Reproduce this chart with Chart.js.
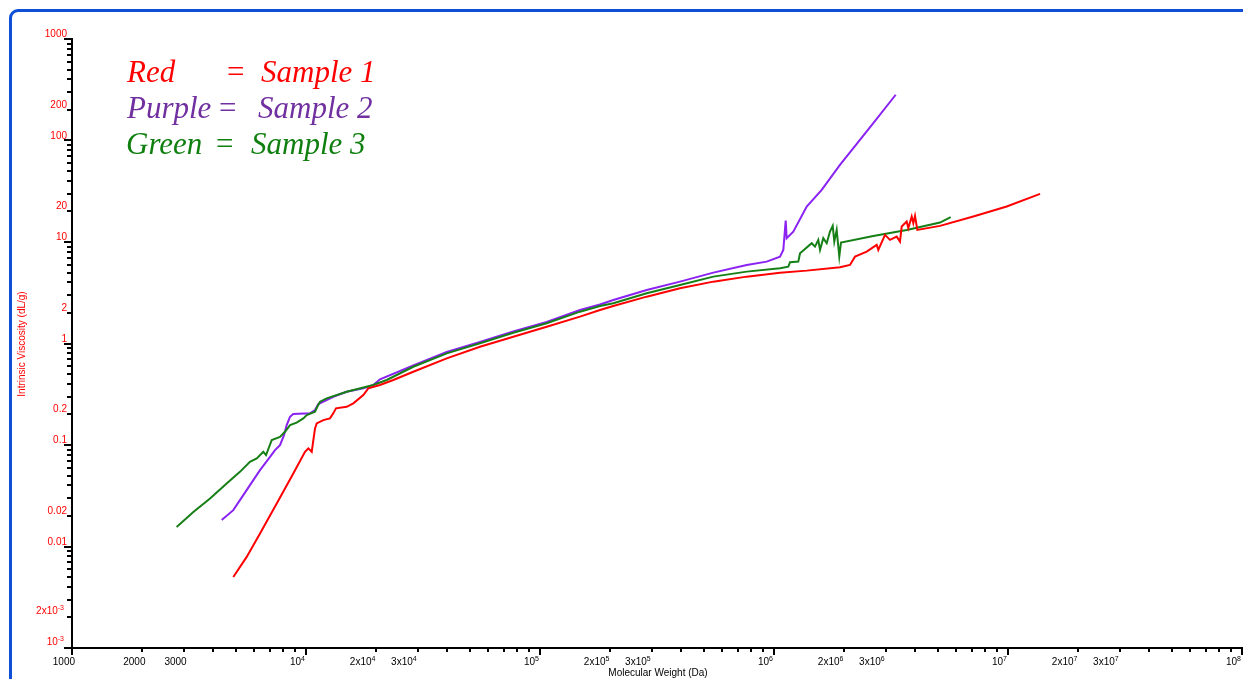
<!DOCTYPE html>
<html><head><meta charset="utf-8">
<script src="https://cdn.jsdelivr.net/npm/chart.js@4.4.0/dist/chart.umd.min.js"></script>
<style>
html,body{margin:0;padding:0;background:#fff;overflow:hidden;}
#wrap{position:relative;width:1243px;height:679px;overflow:hidden;}
#frame{position:absolute;left:9px;top:9px;width:1400px;height:900px;border:3px solid #0d4fd7;border-radius:9px;box-sizing:border-box;pointer-events:none;}
canvas{position:absolute;left:0;top:0;}
</style></head><body>
<div id="wrap"><canvas id="c" width="1243" height="679"></canvas><div id="frame"></div></div>
<script>
// Sample 1 (red)
const sample1MW=[4890,5579,6361,7497,8824,9902,10230,10580,10750,10930,11110,11860,12660,13080,13430,14920,15930,17580,18460,20710,23610,28740,39940,55400,76900,106800,148200,180500,205700,285800,396600,550300,764400,1061000,1380000,1914000,2112000,2220000,2490000,2747000,2791000,2981000,3131000,3345000,3455000,3513000,3691000,3749000,3877000,3939000,4005000,4097000,5122000,7107000,9872000,13710000];
const sample1IV=[0.00501,0.0079,0.01343,0.02655,0.05248,0.0857,0.0926,0.0857,0.1118,0.1458,0.1633,0.176,0.1829,0.205,0.2296,0.238,0.2572,0.3105,0.3616,0.3897,0.4365,0.5271,0.7145,0.9299,1.167,1.464,1.838,2.14,2.343,2.894,3.502,4.069,4.558,4.991,5.224,5.642,5.945,7.178,8.04,9.363,8.358,11.75,10.49,11.30,10.09,14.19,15.90,13.68,17.80,15.33,18.09,13.16,14.41,17.80,22.35,29.82];
// Sample 2 (purple)
const sample2MW=[4363,4890,5396,5954,6361,7020,7372,7743,8054,8270,8545,8824,10400,10930,11290,13080,14920,17580,19400,20710,28740,39940,55400,76900,106800,148200,180500,205700,285800,396600,550300,764400,930700,1061000,1096000,1122000,1133000,1209000,1380000,1599000,1914000,2657000,3312000];
const sample2IV=[0.0182,0.0228,0.0321,0.0451,0.0566,0.0765,0.0891,0.0998,0.1252,0.1571,0.1897,0.2017,0.2050,0.2209,0.2532,0.2987,0.3347,0.3616,0.3897,0.4435,0.6067,0.8245,1.035,1.313,1.629,2.140,2.424,2.685,3.370,4.069,4.991,5.945,6.408,7.178,8.358,16.26,10.90,12.66,22.35,32.65,57.60,148.5,282.3];
// Sample 3 (green)
const sample3MW=[2800,3300,3890,4580,5220,5760,6160,6570,6750,7140,7740,8130,8550,9120,9740,10070,10930,11180,11480,12260,14920,19400,22130,28740,39940,55400,76900,106800,148200,180500,205700,285800,396600,550300,764400,1061000,1151000,1171000,1270000,1292000,1449000,1497000,1546000,1573000,1624000,1680000,1735000,1782000,1810000,1853000,1901000,1933000,2657000,3691000,5122000,5690000];
const sample3IV=[0.0156,0.0219,0.0297,0.0418,0.0544,0.0683,0.0738,0.0857,0.0795,0.112,0.120,0.135,0.157,0.166,0.183,0.197,0.213,0.238,0.267,0.288,0.335,0.390,0.437,0.590,0.800,1.005,1.278,1.582,2.059,2.343,2.491,3.127,3.775,4.558,5.107,5.515,5.720,6.321,6.408,7.753,9.731,9.007,10.49,8.358,10.90,9.73,12.66,14.41,10.09,13.16,7.178,9.86,11.48,13.16,15.54,17.56];

const xTickValues=[1e3,2e3,3e3,1e4,2e4,3e4,1e5,2e5,3e5,1e6,2e6,3e6,1e7,2e7,3e7,1e8];
const xTickLabels=['1000','2000','3000','10^4','2x10^4','3x10^4','10^5','2x10^5','3x10^5','10^6','2x10^6','3x10^6','10^7','2x10^7','3x10^7','10^8'];
const yTickValues=[1000,200,100,20,10,2,1,0.2,0.1,0.02,0.01,0.002,0.001];
const yTickLabels=['1000','200','100','20','10','2','1','0.2','0.1','0.02','0.01','2x10^-3','10^-3'];

const xTitle='Molecular Weight (Da)';
const yTitle='Intrinsic Viscosity (dL/g)';
const legendRows=[
  {parts:['Red','=','Sample 1'],color:'#ff0000'},
  {parts:['Purple','=','Sample 2'],color:'#7030a0'},
  {parts:['Green','=','Sample 3'],color:'#0f7f0f'}
];

function pts(xs,ys){return xs.map((x,i)=>({x:x,y:ys[i]}));}

const SANS='Arial, "Liberation Sans", sans-serif';
function drawLabel(ctx,label,xRight,baseline,color){
  const idx=label.indexOf('^');
  const base=idx<0?label:label.slice(0,idx);
  const sup=idx<0?'':label.slice(idx+1);
  ctx.fillStyle=color;
  ctx.textAlign='left';ctx.textBaseline='alphabetic';
  ctx.font='10px '+SANS;
  const wb=ctx.measureText(base).width;
  ctx.font='7px '+SANS;
  const ws=sup?ctx.measureText(sup).width:0;
  const x0=xRight-wb-ws;
  ctx.font='10px '+SANS;
  ctx.fillText(base,x0,baseline);
  if(sup){ctx.font='7px '+SANS;ctx.fillText(sup,x0+wb,baseline-4);}
}

const axesPlugin={
  id:'axesPlugin',
  afterDatasetsDraw(chart){
    const ctx=chart.ctx, a=chart.chartArea, xs=chart.scales.x, ys=chart.scales.y;
    ctx.save();
    ctx.strokeStyle='#000';ctx.lineWidth=2;ctx.lineCap='butt';
    ctx.beginPath();
    ctx.moveTo(a.left,a.top-1);ctx.lineTo(a.left,a.bottom+1);
    ctx.moveTo(a.left-1,a.bottom);ctx.lineTo(a.right+2,a.bottom);
    ctx.stroke();
    ctx.beginPath();
    for(let e=-3;e<=3;e++){
      for(let k=1;k<=9;k++){
        const v=k*Math.pow(10,e); if(v>1000*1.0001) break;
        const y=Math.round(ys.getPixelForValue(v));
        const len=(k===1)?8:5;
        ctx.moveTo(a.left-len,y);ctx.lineTo(a.left,y);
      }
    }
    for(let e=3;e<=8;e++){
      for(let k=1;k<=9;k++){
        const v=k*Math.pow(10,e); if(v>1e8*1.0001) break;
        const x=Math.round(xs.getPixelForValue(v));
        const len=(k===1)?7:4;
        ctx.moveTo(x,a.bottom);ctx.lineTo(x,a.bottom+len);
      }
    }
    ctx.stroke();
    yTickValues.forEach((v,i)=>{
      const y=ys.getPixelForValue(v);
      const lab=yTickLabels[i];
      const hasSup=lab.indexOf('^')>=0;
      drawLabel(ctx,lab,hasSup?64:67,y-(hasSup?3:2),'#ff0000');
    });
    xTickValues.forEach((v,i)=>{
      const x=xs.getPixelForValue(v);
      const lab=xTickLabels[i];
      const hasSup=lab.indexOf('^')>=0;
      drawLabel(ctx,lab,x+(hasSup?-1:3),664.5,'#000');
    });
    ctx.font='10px '+SANS;ctx.fillStyle='#000';ctx.textAlign='center';ctx.textBaseline='alphabetic';
    ctx.fillText(xTitle,658,676);
    ctx.save();
    ctx.translate(24.5,344);ctx.rotate(-Math.PI/2);
    ctx.fillStyle='#ff0000';
    ctx.fillText(yTitle,0,0);
    ctx.restore();
    const SERIF='italic 31px "Liberation Serif", "Times New Roman", serif';
    const rowPos=[
      {y:82,x:[127,225,261]},
      {y:117.5,x:[127,217,258]},
      {y:153.5,x:[126,214,251]}
    ];
    ctx.font=SERIF;ctx.textAlign='left';
    legendRows.forEach((r,i)=>{
      ctx.fillStyle=r.color;
      r.parts.forEach((p,j)=>ctx.fillText(p,rowPos[i].x[j],rowPos[i].y));
    });
    ctx.restore();
  }
};

const common={showLine:true,pointRadius:0,borderWidth:2,tension:0,fill:false};
new Chart(document.getElementById('c').getContext('2d'),{
  type:'scatter',
  data:{datasets:[
    Object.assign({label:'Sample 1',data:pts(sample1MW,sample1IV),borderColor:'#ff0000'},common),
    Object.assign({label:'Sample 3',data:pts(sample3MW,sample3IV),borderColor:'#167f16'},common),
    Object.assign({label:'Sample 2',data:pts(sample2MW,sample2IV),borderColor:'#8a22f2'},common)
  ]},
  options:{
    responsive:false,animation:false,events:[],
    layout:{padding:{left:72,right:1,top:39,bottom:31}},
    plugins:{legend:{display:false},tooltip:{enabled:false}},
    scales:{
      x:{type:'logarithmic',min:1000,max:1e8,display:false},
      y:{type:'logarithmic',min:0.001,max:1000,display:false}
    }
  },
  plugins:[axesPlugin]
});
</script>
</body></html>
